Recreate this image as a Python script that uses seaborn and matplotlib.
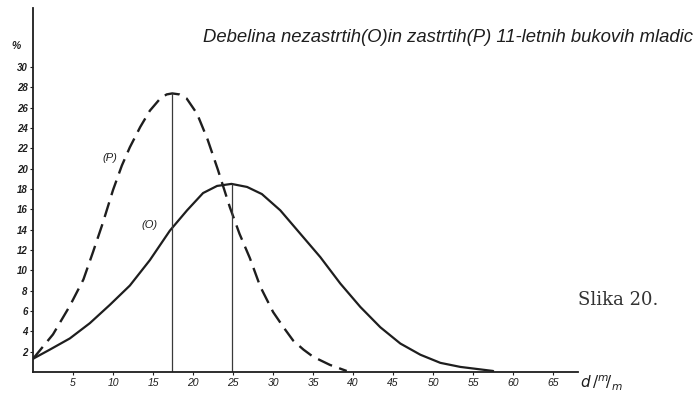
import matplotlib
matplotlib.use("Agg")
import matplotlib.pyplot as plt
import seaborn as sns
import pandas as pd

# Diameter distribution of unshaded (O) and shaded (P) 11-year-old beech saplings
p_d = [0, 2.5, 4.6, 6.3, 7.5, 8.7, 10, 11.1, 12.1, 13.4, 14.6, 15.9, 16.7, 17.4,
       18.3, 19.2, 20.5, 21.8, 23.1, 24.6, 25.8, 27.1, 28.4, 30, 31.3, 32.5,
       33.8, 35, 37.1, 39.2]
p_pct = [1.3, 3.7, 6.5, 9.1, 11.8, 14.6, 17.9, 20.3, 22.1, 24.1, 25.7, 26.9,
         27.3, 27.4, 27.3, 26.9, 25.4, 22.9, 19.9, 16.2, 13.6, 11.2, 8.4, 5.9,
         4.4, 3.1, 2.2, 1.5, 0.7, 0.1]

o_d = [0, 2.1, 4.6, 7.1, 9.6, 12.1, 14.6, 17.1, 19.25, 21.25, 23, 24.8, 26.75,
       28.6, 30.9, 33.4, 35.9, 38.4, 40.9, 43.4, 45.9, 48.4, 50.9, 53.4, 57.5]
o_pct = [1.3, 2.2, 3.3, 4.8, 6.6, 8.5, 11.0, 13.9, 15.9, 17.6, 18.3, 18.5, 18.2,
         17.5, 15.9, 13.6, 11.3, 8.7, 6.4, 4.4, 2.8, 1.7, 0.9, 0.5, 0.1]

# modal diameters and their frequencies
mode_d = [17.4, 24.9]
mode_pct = [27.4, 18.5]

x_ticks = [5, 10, 15, 20, 25, 30, 35, 40, 45, 50, 55, 60, 65]
y_ticks = [2, 4, 6, 8, 10, 12, 14, 16, 18, 20, 22, 24, 26, 28, 30]

title = "Debelina nezastrtih(O)in zastrtih(P) 11-letnih bukovih mladic"
caption = "Slika 20."

sns.set_style("ticks")
plt.rcParams["font.family"] = ["Liberation Sans", "DejaVu Sans"]

ink = "#1e1e1e"
fig = plt.figure(figsize=(6.98, 3.95), dpi=100)
ax = fig.add_axes([33 / 698, 23 / 395, 545 / 698, 364 / 395])

df_p = pd.DataFrame({"d": p_d, "pct": p_pct})
df_o = pd.DataFrame({"d": o_d, "pct": o_pct})

sns.lineplot(data=df_p, x="d", y="pct", ax=ax, color=ink, lw=1.7,
             sort=False, estimator=None)
ax.lines[-1].set_dashes([6.5, 3.2])
sns.lineplot(data=df_o, x="d", y="pct", ax=ax, color=ink, lw=1.6,
             sort=False, estimator=None)

for xd, yp in zip(mode_d, mode_pct):
    ax.vlines(xd, 0, yp, color="#3a3a3a", lw=0.9)

ax.set_xlim(0, 68.1)
ax.set_ylim(0, 35.8)
ax.set_xticks(x_ticks)
ax.set_xticklabels([str(v) for v in x_ticks], fontsize=7.5, style="italic",
                   color=ink)
ax.set_yticks(y_ticks)
ax.set_yticklabels([str(v) for v in y_ticks], fontsize=7, style="italic",
                   weight="bold", color=ink)
ax.tick_params(axis="both", direction="out", length=2, width=0.8, color=ink, pad=2)
ax.set_xlabel("")
ax.set_ylabel("")
sns.despine(ax=ax)
for s in ("left", "bottom"):
    ax.spines[s].set_linewidth(1.3)
    ax.spines[s].set_color(ink)

ax.text(-1.6, 32.1, "%", fontsize=7.5, style="italic", weight="bold",
        ha="right", va="center", color=ink)
ax.text(9.6, 21.0, "(P)", fontsize=8, style="italic", ha="center",
        va="center", color=ink)
ax.text(14.6, 14.5, "(O)", fontsize=8, style="italic", ha="center",
        va="center", color=ink)

fig.text(580 / 698, 1 - 383 / 395, r"$d\,/^{m}\!/_{m}$", fontsize=11,
         ha="left", va="center", color=ink)

# title scaled to span its slot above the curves
t = fig.text(203 / 698, 1 - 37 / 395, title, fontsize=12, style="italic",
             ha="left", va="center", color=ink)
fig.canvas.draw()
w = t.get_window_extent(fig.canvas.get_renderer()).width
t.set_fontsize(12 * 490 / w)

fig.text(578 / 698, 1 - 300 / 395, caption, fontsize=13,
         family="DejaVu Serif", ha="left", va="center", color="#333333")

fig.savefig("out.png", dpi=100)
